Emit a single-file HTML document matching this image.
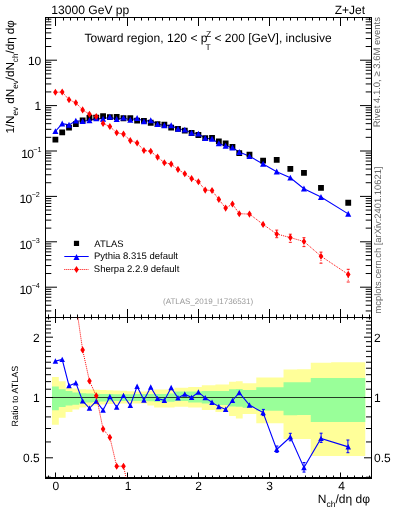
<!DOCTYPE html><html><head><meta charset="utf-8"><style>html,body{margin:0;padding:0;background:#fff;width:393px;height:512px;overflow:hidden}svg{display:block;will-change:transform}text{font-family:"Liberation Sans",sans-serif;text-rendering:geometricPrecision}</style></head><body>
<svg width="393" height="512" viewBox="0 0 393 512">
<path d="M51.99 377.1L58.8 377.1L58.8 381.3L65.61 381.3L65.61 387.9L72.42 387.9L72.42 388.5L79.23 388.5L79.23 389.2L86.05 389.2L86.05 389.5L92.85 389.5L92.85 389.8L99.66 389.8L99.66 390L106.47 390L106.47 390.2L113.28 390.2L113.28 390.5L120.09 390.5L120.09 390.8L126.91 390.8L126.91 391.2L133.72 391.2L133.72 391.5L140.53 391.5L140.53 391.5L147.33 391.5L147.33 390.5L154.14 390.5L154.14 389.6L160.95 389.6L160.95 389.6L167.76 389.6L167.76 389.6L174.57 389.6L174.57 387.7L181.38 387.7L181.38 387.7L188.19 387.7L188.19 387.1L195 387.1L195 387.1L201.81 387.1L201.81 385.2L208.62 385.2L208.62 385.2L215.44 385.2L215.44 384.5L222.25 384.5L222.25 384.5L229.06 384.5L229.06 381.8L235.87 381.8L235.87 381.3L242.67 381.3L242.67 383.2L256.29 383.2L256.29 377.4L269.91 377.4L269.91 377.4L283.53 377.4L283.53 369.6L297.15 369.6L297.15 369.3L310.77 369.3L310.77 362.8L331.2 362.8L331.2 362.3L365.25 362.3L365.25 456L331.2 456L331.2 456L310.77 456L310.77 438.9L297.15 438.9L297.15 438.9L283.53 438.9L283.53 423.3L269.91 423.3L269.91 423.3L256.29 423.3L256.29 414L242.67 414L242.67 418.4L235.87 418.4L235.87 416L229.06 416L229.06 411.9L222.25 411.9L222.25 411.9L215.44 411.9L215.44 410L208.62 410L208.62 410L201.81 410L201.81 407.4L195 407.4L195 407.4L188.19 407.4L188.19 406.8L181.38 406.8L181.38 406.8L174.57 406.8L174.57 407.4L167.76 407.4L167.76 407.4L160.95 407.4L160.95 407.4L154.14 407.4L154.14 405.5L147.33 405.5L147.33 403.6L140.53 403.6L140.53 403.6L133.72 403.6L133.72 403.6L126.91 403.6L126.91 403.6L120.09 403.6L120.09 403.8L113.28 403.8L113.28 404L106.47 404L106.47 404.5L99.66 404.5L99.66 405.5L92.85 405.5L92.85 406.5L86.05 406.5L86.05 407.6L79.23 407.6L79.23 409.5L72.42 409.5L72.42 412L65.61 412L65.61 417.8L58.8 417.8L58.8 424.8L51.99 424.8Z" fill="#ffff99"/>
<path d="M51.99 386.6L58.8 386.6L58.8 389.2L65.61 389.2L65.61 391.1L72.42 391.1L72.42 392.4L79.23 392.4L79.23 393.2L86.05 393.2L86.05 393.5L92.85 393.5L92.85 393.8L99.66 393.8L99.66 394L106.47 394L106.47 394.1L113.28 394.1L113.28 394.2L120.09 394.2L120.09 394.2L126.91 394.2L126.91 394.2L133.72 394.2L133.72 394.1L140.53 394.1L140.53 394.1L147.33 394.1L147.33 394.1L154.14 394.1L154.14 394.1L160.95 394.1L160.95 394.1L167.76 394.1L167.76 393.5L174.57 393.5L174.57 391.5L181.38 391.5L181.38 391.5L188.19 391.5L188.19 391.5L195 391.5L195 391.5L201.81 391.5L201.81 390.9L208.62 390.9L208.62 390.9L215.44 390.9L215.44 390.9L222.25 390.9L222.25 390.9L229.06 390.9L229.06 389.3L235.87 389.3L235.87 389.1L242.67 389.1L242.67 390.1L256.29 390.1L256.29 387.2L269.91 387.2L269.91 387.2L283.53 387.2L283.53 382.3L297.15 382.3L297.15 382.2L310.77 382.2L310.77 378L331.2 378L331.2 378L365.25 378L365.25 422L331.2 422L331.2 422L310.77 422L310.77 415.1L297.15 415.1L297.15 415.3L283.53 415.3L283.53 410.8L269.91 410.8L269.91 410.8L256.29 410.8L256.29 407.7L242.67 407.7L242.67 406.7L235.87 406.7L235.87 406.5L229.06 406.5L229.06 404.9L222.25 404.9L222.25 404.9L215.44 404.9L215.44 403.6L208.62 403.6L208.62 403.6L201.81 403.6L201.81 402.4L195 402.4L195 402.4L188.19 402.4L188.19 401.1L181.38 401.1L181.38 401.1L174.57 401.1L174.57 401.7L167.76 401.7L167.76 401.7L160.95 401.7L160.95 401.7L154.14 401.7L154.14 401.3L147.33 401.3L147.33 401L140.53 401L140.53 401L133.72 401L133.72 401L126.91 401L126.91 401L120.09 401L120.09 401L113.28 401L113.28 401.2L106.47 401.2L106.47 401.5L99.66 401.5L99.66 402L92.85 402L92.85 402.5L86.05 402.5L86.05 403.2L79.23 403.2L79.23 404.7L72.42 404.7L72.42 405.5L65.61 405.5L65.61 407L58.8 407L58.8 410.2L51.99 410.2Z" fill="#99ff99"/>
<line x1="45.5" y1="397.5" x2="371.5" y2="397.5" stroke="#000" stroke-width="1.2" opacity="0.75"/>
<path d="M48.5 17.5L48.5 20.5M48.5 317.5L48.5 314.5M48.5 317.5L48.5 319.5M48.5 477.5L48.5 475.5M55.5 17.5L55.5 26M55.5 317.5L55.5 309M55.5 317.5L55.5 323M55.5 477.5L55.5 472.5M63.5 17.5L63.5 20.5M63.5 317.5L63.5 314.5M63.5 317.5L63.5 319.5M63.5 477.5L63.5 475.5M70.5 17.5L70.5 20.5M70.5 317.5L70.5 314.5M70.5 317.5L70.5 319.5M70.5 477.5L70.5 475.5M77.5 17.5L77.5 20.5M77.5 317.5L77.5 314.5M77.5 317.5L77.5 319.5M77.5 477.5L77.5 475.5M84.5 17.5L84.5 20.5M84.5 317.5L84.5 314.5M84.5 317.5L84.5 319.5M84.5 477.5L84.5 475.5M91.5 17.5L91.5 20.5M91.5 317.5L91.5 314.5M91.5 317.5L91.5 319.5M91.5 477.5L91.5 475.5M98.5 17.5L98.5 20.5M98.5 317.5L98.5 314.5M98.5 317.5L98.5 319.5M98.5 477.5L98.5 475.5M105.5 17.5L105.5 20.5M105.5 317.5L105.5 314.5M105.5 317.5L105.5 319.5M105.5 477.5L105.5 475.5M112.5 17.5L112.5 20.5M112.5 317.5L112.5 314.5M112.5 317.5L112.5 319.5M112.5 477.5L112.5 475.5M119.5 17.5L119.5 20.5M119.5 317.5L119.5 314.5M119.5 317.5L119.5 319.5M119.5 477.5L119.5 475.5M127.5 17.5L127.5 26M127.5 317.5L127.5 309M127.5 317.5L127.5 323M127.5 477.5L127.5 472.5M134.5 17.5L134.5 20.5M134.5 317.5L134.5 314.5M134.5 317.5L134.5 319.5M134.5 477.5L134.5 475.5M141.5 17.5L141.5 20.5M141.5 317.5L141.5 314.5M141.5 317.5L141.5 319.5M141.5 477.5L141.5 475.5M148.5 17.5L148.5 20.5M148.5 317.5L148.5 314.5M148.5 317.5L148.5 319.5M148.5 477.5L148.5 475.5M155.5 17.5L155.5 20.5M155.5 317.5L155.5 314.5M155.5 317.5L155.5 319.5M155.5 477.5L155.5 475.5M162.5 17.5L162.5 20.5M162.5 317.5L162.5 314.5M162.5 317.5L162.5 319.5M162.5 477.5L162.5 475.5M169.5 17.5L169.5 20.5M169.5 317.5L169.5 314.5M169.5 317.5L169.5 319.5M169.5 477.5L169.5 475.5M176.5 17.5L176.5 20.5M176.5 317.5L176.5 314.5M176.5 317.5L176.5 319.5M176.5 477.5L176.5 475.5M184.5 17.5L184.5 20.5M184.5 317.5L184.5 314.5M184.5 317.5L184.5 319.5M184.5 477.5L184.5 475.5M191.5 17.5L191.5 20.5M191.5 317.5L191.5 314.5M191.5 317.5L191.5 319.5M191.5 477.5L191.5 475.5M198.5 17.5L198.5 26M198.5 317.5L198.5 309M198.5 317.5L198.5 323M198.5 477.5L198.5 472.5M205.5 17.5L205.5 20.5M205.5 317.5L205.5 314.5M205.5 317.5L205.5 319.5M205.5 477.5L205.5 475.5M212.5 17.5L212.5 20.5M212.5 317.5L212.5 314.5M212.5 317.5L212.5 319.5M212.5 477.5L212.5 475.5M219.5 17.5L219.5 20.5M219.5 317.5L219.5 314.5M219.5 317.5L219.5 319.5M219.5 477.5L219.5 475.5M226.5 17.5L226.5 20.5M226.5 317.5L226.5 314.5M226.5 317.5L226.5 319.5M226.5 477.5L226.5 475.5M233.5 17.5L233.5 20.5M233.5 317.5L233.5 314.5M233.5 317.5L233.5 319.5M233.5 477.5L233.5 475.5M241.5 17.5L241.5 20.5M241.5 317.5L241.5 314.5M241.5 317.5L241.5 319.5M241.5 477.5L241.5 475.5M248.5 17.5L248.5 20.5M248.5 317.5L248.5 314.5M248.5 317.5L248.5 319.5M248.5 477.5L248.5 475.5M255.5 17.5L255.5 20.5M255.5 317.5L255.5 314.5M255.5 317.5L255.5 319.5M255.5 477.5L255.5 475.5M262.5 17.5L262.5 20.5M262.5 317.5L262.5 314.5M262.5 317.5L262.5 319.5M262.5 477.5L262.5 475.5M269.5 17.5L269.5 26M269.5 317.5L269.5 309M269.5 317.5L269.5 323M269.5 477.5L269.5 472.5M276.5 17.5L276.5 20.5M276.5 317.5L276.5 314.5M276.5 317.5L276.5 319.5M276.5 477.5L276.5 475.5M283.5 17.5L283.5 20.5M283.5 317.5L283.5 314.5M283.5 317.5L283.5 319.5M283.5 477.5L283.5 475.5M290.5 17.5L290.5 20.5M290.5 317.5L290.5 314.5M290.5 317.5L290.5 319.5M290.5 477.5L290.5 475.5M297.5 17.5L297.5 20.5M297.5 317.5L297.5 314.5M297.5 317.5L297.5 319.5M297.5 477.5L297.5 475.5M305.5 17.5L305.5 20.5M305.5 317.5L305.5 314.5M305.5 317.5L305.5 319.5M305.5 477.5L305.5 475.5M312.5 17.5L312.5 20.5M312.5 317.5L312.5 314.5M312.5 317.5L312.5 319.5M312.5 477.5L312.5 475.5M319.5 17.5L319.5 20.5M319.5 317.5L319.5 314.5M319.5 317.5L319.5 319.5M319.5 477.5L319.5 475.5M326.5 17.5L326.5 20.5M326.5 317.5L326.5 314.5M326.5 317.5L326.5 319.5M326.5 477.5L326.5 475.5M333.5 17.5L333.5 20.5M333.5 317.5L333.5 314.5M333.5 317.5L333.5 319.5M333.5 477.5L333.5 475.5M340.5 17.5L340.5 26M340.5 317.5L340.5 309M340.5 317.5L340.5 323M340.5 477.5L340.5 472.5M347.5 17.5L347.5 20.5M347.5 317.5L347.5 314.5M347.5 317.5L347.5 319.5M347.5 477.5L347.5 475.5M354.5 17.5L354.5 20.5M354.5 317.5L354.5 314.5M354.5 317.5L354.5 319.5M354.5 477.5L354.5 475.5M362.5 17.5L362.5 20.5M362.5 317.5L362.5 314.5M362.5 317.5L362.5 319.5M362.5 477.5L362.5 475.5M369.5 17.5L369.5 20.5M369.5 317.5L369.5 314.5M369.5 317.5L369.5 319.5M369.5 477.5L369.5 475.5M45.5 310.94L51.3 310.94M371.5 310.94L365.7 310.94M45.5 305.27L51.3 305.27M371.5 305.27L365.7 305.27M45.5 300.87L51.3 300.87M371.5 300.87L365.7 300.87M45.5 297.27L51.3 297.27M371.5 297.27L365.7 297.27M45.5 294.23L51.3 294.23M371.5 294.23L365.7 294.23M45.5 291.6L51.3 291.6M371.5 291.6L365.7 291.6M45.5 289.28L51.3 289.28M371.5 289.28L365.7 289.28M45.5 287.2L57 287.2M371.5 287.2L360 287.2M45.5 273.53L51.3 273.53M371.5 273.53L365.7 273.53M45.5 265.54L51.3 265.54M371.5 265.54L365.7 265.54M45.5 259.87L51.3 259.87M371.5 259.87L365.7 259.87M45.5 255.47L51.3 255.47M371.5 255.47L365.7 255.47M45.5 251.87L51.3 251.87M371.5 251.87L365.7 251.87M45.5 248.83L51.3 248.83M371.5 248.83L365.7 248.83M45.5 246.2L51.3 246.2M371.5 246.2L365.7 246.2M45.5 243.88L51.3 243.88M371.5 243.88L365.7 243.88M45.5 241.8L57 241.8M371.5 241.8L360 241.8M45.5 228.13L51.3 228.13M371.5 228.13L365.7 228.13M45.5 220.14L51.3 220.14M371.5 220.14L365.7 220.14M45.5 214.47L51.3 214.47M371.5 214.47L365.7 214.47M45.5 210.07L51.3 210.07M371.5 210.07L365.7 210.07M45.5 206.47L51.3 206.47M371.5 206.47L365.7 206.47M45.5 203.43L51.3 203.43M371.5 203.43L365.7 203.43M45.5 200.8L51.3 200.8M371.5 200.8L365.7 200.8M45.5 198.48L51.3 198.48M371.5 198.48L365.7 198.48M45.5 196.4L57 196.4M371.5 196.4L360 196.4M45.5 182.73L51.3 182.73M371.5 182.73L365.7 182.73M45.5 174.74L51.3 174.74M371.5 174.74L365.7 174.74M45.5 169.07L51.3 169.07M371.5 169.07L365.7 169.07M45.5 164.67L51.3 164.67M371.5 164.67L365.7 164.67M45.5 161.07L51.3 161.07M371.5 161.07L365.7 161.07M45.5 158.03L51.3 158.03M371.5 158.03L365.7 158.03M45.5 155.4L51.3 155.4M371.5 155.4L365.7 155.4M45.5 153.08L51.3 153.08M371.5 153.08L365.7 153.08M45.5 151L57 151M371.5 151L360 151M45.5 137.33L51.3 137.33M371.5 137.33L365.7 137.33M45.5 129.34L51.3 129.34M371.5 129.34L365.7 129.34M45.5 123.67L51.3 123.67M371.5 123.67L365.7 123.67M45.5 119.27L51.3 119.27M371.5 119.27L365.7 119.27M45.5 115.67L51.3 115.67M371.5 115.67L365.7 115.67M45.5 112.63L51.3 112.63M371.5 112.63L365.7 112.63M45.5 110L51.3 110M371.5 110L365.7 110M45.5 107.68L51.3 107.68M371.5 107.68L365.7 107.68M45.5 105.6L57 105.6M371.5 105.6L360 105.6M45.5 91.93L51.3 91.93M371.5 91.93L365.7 91.93M45.5 83.94L51.3 83.94M371.5 83.94L365.7 83.94M45.5 78.27L51.3 78.27M371.5 78.27L365.7 78.27M45.5 73.87L51.3 73.87M371.5 73.87L365.7 73.87M45.5 70.27L51.3 70.27M371.5 70.27L365.7 70.27M45.5 67.23L51.3 67.23M371.5 67.23L365.7 67.23M45.5 64.6L51.3 64.6M371.5 64.6L365.7 64.6M45.5 62.28L51.3 62.28M371.5 62.28L365.7 62.28M45.5 60.2L57 60.2M371.5 60.2L360 60.2M45.5 46.53L51.3 46.53M371.5 46.53L365.7 46.53M45.5 38.54L51.3 38.54M371.5 38.54L365.7 38.54M45.5 32.87L51.3 32.87M371.5 32.87L365.7 32.87M45.5 28.47L51.3 28.47M371.5 28.47L365.7 28.47M45.5 24.87L51.3 24.87M371.5 24.87L365.7 24.87M45.5 21.83L51.3 21.83M371.5 21.83L365.7 21.83M45.5 19.2L51.3 19.2M371.5 19.2L365.7 19.2M45.5 477.21L51 477.21M371.5 477.21L366 477.21M45.5 457.8L53 457.8M371.5 457.8L364 457.8M45.5 441.94L51 441.94M371.5 441.94L366 441.94M45.5 428.53L51 428.53M371.5 428.53L366 428.53M45.5 416.91L51 416.91M371.5 416.91L366 416.91M45.5 406.67L51 406.67M371.5 406.67L366 406.67M45.5 397.5L53 397.5M371.5 397.5L364 397.5M45.5 389.21L51 389.21M371.5 389.21L366 389.21M45.5 381.64L51 381.64M371.5 381.64L366 381.64M45.5 374.68L51 374.68M371.5 374.68L366 374.68M45.5 368.23L51 368.23M371.5 368.23L366 368.23M45.5 362.23L51 362.23M371.5 362.23L366 362.23M45.5 356.61L51 356.61M371.5 356.61L366 356.61M45.5 351.34L51 351.34M371.5 351.34L366 351.34M45.5 346.37L51 346.37M371.5 346.37L366 346.37M45.5 341.67L51 341.67M371.5 341.67L366 341.67M45.5 337.2L53 337.2M371.5 337.2L364 337.2M45.5 332.96L51 332.96M371.5 332.96L366 332.96M45.5 328.91L51 328.91M371.5 328.91L366 328.91M45.5 325.05L51 325.05M371.5 325.05L366 325.05M45.5 321.34L51 321.34M371.5 321.34L366 321.34M45.5 317.79L51 317.79M371.5 317.79L366 317.79" stroke="#000" stroke-width="1" fill="none"/>
<rect x="45.5" y="17.5" width="326.0" height="460.0" fill="none" stroke="#000" stroke-width="1"/>
<line x1="45.5" y1="317.5" x2="371.5" y2="317.5" stroke="#000" stroke-width="1"/>
<line x1="45.0" y1="478" x2="372.0" y2="478" stroke="#000" stroke-width="2"/>
<defs><clipPath id="cm"><rect x="45.5" y="17.5" width="326.0" height="300.0"/></clipPath><clipPath id="cr"><rect x="45.5" y="317.5" width="326.0" height="160.0"/></clipPath></defs>
<path d="M55.4 92.3L62.21 92L69.02 99.7L75.83 102.8L82.64 109.9L89.45 114.2L96.26 116.5L103.07 123.5L109.88 126.5L116.69 132.8L123.5 134.1L130.31 140.6L137.12 143L143.93 150.5L150.74 151.3L157.55 157.1L164.36 162.7L171.17 164.1L177.98 169.4L184.79 173.7L191.6 178.6L198.41 181.7L205.22 190.1L212.03 190.5L218.84 199.4L225.65 208.1L232.46 204L239.27 213.7L249.48 214.1L263.1 224.4L276.72 234L290.34 237.6L303.96 241.5L320.99 256.2L348.23 274.4" stroke="#ff0000" stroke-width="1" fill="none" stroke-dasharray="1 1" clip-path="url(#cm)"/>
<path d="M55.4 131.3L62.21 123.7L69.02 124.9L75.83 120.8L82.64 121.3L89.45 120.4L96.26 118.4L103.07 119L109.88 117L116.69 119.2L123.5 117.8L130.31 120L137.12 118.1L143.93 121.4L150.74 120.4L157.55 124.3L164.36 125.4L171.17 125.4L177.98 129L184.79 129.8L191.6 133L198.41 133.8L205.22 138.2L212.03 138.9L218.84 143.4L225.65 146L232.46 147.6L239.27 152.1L249.48 156.3L263.1 164L276.72 171.7L290.34 177.8L303.96 188.7L320.99 197.1L348.23 213.9" stroke="#0000ff" stroke-width="1.1" fill="none" clip-path="url(#cm)"/>
<path d="M52.5 136.63h5.8v5.8h-5.8ZM59.31 129.4h5.8v5.8h-5.8ZM66.12 124.67h5.8v5.8h-5.8ZM72.93 121.2h5.8v5.8h-5.8ZM79.74 117.61h5.8v5.8h-5.8ZM86.55 115.06h5.8v5.8h-5.8ZM93.36 114.66h5.8v5.8h-5.8ZM100.17 113.23h5.8v5.8h-5.8ZM106.98 114.28h5.8v5.8h-5.8ZM113.79 114.08h5.8v5.8h-5.8ZM120.6 115.35h5.8v5.8h-5.8ZM127.41 115.29h5.8v5.8h-5.8ZM134.22 117.71h5.8v5.8h-5.8ZM141.03 117.91h5.8v5.8h-5.8ZM147.84 119.85h5.8v5.8h-5.8ZM154.65 121.17h5.8v5.8h-5.8ZM161.46 121.84h5.8v5.8h-5.8ZM168.27 124.72h5.8v5.8h-5.8ZM175.08 126.01h5.8v5.8h-5.8ZM181.89 127.67h5.8v5.8h-5.8ZM188.7 130.1h5.8v5.8h-5.8ZM195.51 132.12h5.8v5.8h-5.8ZM202.32 135.23h5.8v5.8h-5.8ZM209.13 134.89h5.8v5.8h-5.8ZM215.94 138.44h5.8v5.8h-5.8ZM222.75 140.41h5.8v5.8h-5.8ZM229.56 144.02h5.8v5.8h-5.8ZM236.37 150.31h5.8v5.8h-5.8ZM246.58 151.68h5.8v5.8h-5.8ZM260.2 157.68h5.8v5.8h-5.8ZM273.82 157.04h5.8v5.8h-5.8ZM287.44 165.97h5.8v5.8h-5.8ZM301.06 169.94h5.8v5.8h-5.8ZM318.09 184.93h5.8v5.8h-5.8ZM345.33 199.83h5.8v5.8h-5.8Z" fill="#000"/>
<path d="M55.4 128.17L58.44 134.11L52.36 134.11ZM62.21 120.56L65.25 126.5L59.17 126.5ZM69.02 121.77L72.06 127.71L65.98 127.71ZM75.83 117.66L78.87 123.6L72.79 123.6ZM82.64 118.16L85.68 124.1L79.6 124.1ZM89.45 117.27L92.49 123.21L86.41 123.21ZM96.26 115.27L99.3 121.21L93.22 121.21ZM103.07 115.86L106.11 121.81L100.03 121.81ZM109.88 113.86L112.92 119.81L106.84 119.81ZM116.69 116.06L119.73 122L113.65 122ZM123.5 114.66L126.54 120.6L120.46 120.6ZM130.31 116.86L133.35 122.81L127.27 122.81ZM137.12 114.96L140.16 120.91L134.08 120.91ZM143.93 118.27L146.97 124.21L140.89 124.21ZM150.74 117.27L153.78 123.21L147.7 123.21ZM157.55 121.16L160.59 127.1L154.51 127.1ZM164.36 122.27L167.4 128.21L161.32 128.21ZM171.17 122.27L174.21 128.21L168.13 128.21ZM177.98 125.86L181.02 131.81L174.94 131.81ZM184.79 126.67L187.83 132.61L181.75 132.61ZM191.6 129.87L194.64 135.81L188.56 135.81ZM198.41 130.67L201.45 136.61L195.37 136.61ZM205.22 135.06L208.26 141L202.18 141ZM212.03 135.77L215.07 141.71L208.99 141.71ZM218.84 140.27L221.88 146.21L215.8 146.21ZM225.65 142.87L228.69 148.81L222.61 148.81ZM232.46 144.47L235.5 150.41L229.42 150.41ZM239.27 148.97L242.31 154.91L236.23 154.91ZM249.48 153.17L252.52 159.11L246.45 159.11ZM263.1 160.87L266.14 166.81L260.07 166.81ZM276.72 168.56L279.76 174.5L273.69 174.5ZM290.34 174.67L293.38 180.61L287.31 180.61ZM303.96 185.56L307 191.5L300.93 191.5ZM320.99 193.97L324.03 199.91L317.95 199.91ZM348.23 210.77L351.27 216.71L345.19 216.71Z" fill="#0000ff"/>
<path d="M55.4 88.74L57.71 92.3L55.4 95.86L53.09 92.3ZM62.21 88.44L64.52 92L62.21 95.56L59.9 92ZM69.02 96.14L71.33 99.7L69.02 103.26L66.71 99.7ZM75.83 99.24L78.14 102.8L75.83 106.36L73.52 102.8ZM82.64 106.34L84.95 109.9L82.64 113.46L80.33 109.9ZM89.45 110.64L91.76 114.2L89.45 117.76L87.14 114.2ZM96.26 112.94L98.57 116.5L96.26 120.06L93.95 116.5ZM103.07 119.94L105.38 123.5L103.07 127.06L100.76 123.5ZM109.88 122.94L112.19 126.5L109.88 130.06L107.57 126.5ZM116.69 129.24L119 132.8L116.69 136.36L114.38 132.8ZM123.5 130.54L125.81 134.1L123.5 137.66L121.19 134.1ZM130.31 137.04L132.62 140.6L130.31 144.16L128 140.6ZM137.12 139.44L139.43 143L137.12 146.56L134.81 143ZM143.93 146.94L146.24 150.5L143.93 154.06L141.62 150.5ZM150.74 147.74L153.05 151.3L150.74 154.86L148.43 151.3ZM157.55 153.54L159.86 157.1L157.55 160.66L155.24 157.1ZM164.36 159.14L166.67 162.7L164.36 166.26L162.05 162.7ZM171.17 160.54L173.48 164.1L171.17 167.66L168.86 164.1ZM177.98 165.84L180.29 169.4L177.98 172.96L175.67 169.4ZM184.79 170.14L187.1 173.7L184.79 177.26L182.48 173.7ZM191.6 175.04L193.91 178.6L191.6 182.16L189.29 178.6ZM198.41 178.14L200.72 181.7L198.41 185.26L196.1 181.7ZM205.22 186.54L207.53 190.1L205.22 193.66L202.91 190.1ZM212.03 186.94L214.34 190.5L212.03 194.06L209.72 190.5ZM218.84 195.84L221.15 199.4L218.84 202.96L216.53 199.4ZM225.65 204.54L227.96 208.1L225.65 211.66L223.34 208.1ZM232.46 200.44L234.77 204L232.46 207.56L230.15 204ZM239.27 210.14L241.58 213.7L239.27 217.26L236.96 213.7ZM249.48 210.54L251.79 214.1L249.48 217.66L247.17 214.1ZM263.1 220.84L265.41 224.4L263.1 227.96L260.79 224.4ZM276.72 230.44L279.03 234L276.72 237.56L274.41 234ZM290.34 234.04L292.65 237.6L290.34 241.16L288.03 237.6ZM303.96 237.94L306.27 241.5L303.96 245.06L301.65 241.5ZM320.99 252.64L323.3 256.2L320.99 259.76L318.68 256.2ZM348.23 270.84L350.54 274.4L348.23 277.96L345.92 274.4Z" fill="#ff0000"/>
<path d="M276.72 230.1V237.7M290.34 234.2V242.3M303.96 237.7V246.6M320.99 252.1V263.2M348.23 269.3V282" stroke="#ff0000" stroke-width="1" stroke-dasharray="1 1.6" fill="none"/>
<path d="M275.22 230.1h3M275.22 237.7h3M288.84 234.2h3M288.84 242.3h3M302.46 237.7h3M302.46 246.6h3M319.49 252.1h3M319.49 263.2h3M346.73 269.3h3M346.73 282h3" stroke="#ff0000" stroke-width="0.9" fill="none"/>
<path d="M55.4 361.1L62.21 359.5L69.02 385.7L75.83 382.9L82.64 401L89.45 408.3L96.26 401.2L103.07 410.2L109.88 396.7L116.69 407.3L123.5 395.5L130.31 405.5L137.12 386.4L143.93 400.1L150.74 387.1L157.55 398.5L164.36 400.4L171.17 387.7L177.98 397.9L184.79 394.1L191.6 397.5L198.41 392.1L205.22 397.8L212.03 402.4L218.84 406.6L225.65 409.4L232.46 400.5L239.27 392.6L249.48 405.1L263.1 412.6L276.72 449.5L290.34 437L303.96 467.6L320.99 438.5L348.23 446.9" stroke="#0000ff" stroke-width="1.1" fill="none" clip-path="url(#cr)"/>
<path d="M55.4 358.25L58.16 363.65L52.64 363.65ZM62.21 356.65L64.97 362.05L59.45 362.05ZM69.02 382.85L71.78 388.25L66.26 388.25ZM75.83 380.05L78.59 385.45L73.07 385.45ZM82.64 398.15L85.4 403.55L79.88 403.55ZM89.45 405.45L92.21 410.85L86.69 410.85ZM96.26 398.35L99.02 403.75L93.5 403.75ZM103.07 407.35L105.83 412.75L100.31 412.75ZM109.88 393.85L112.64 399.25L107.12 399.25ZM116.69 404.45L119.45 409.85L113.93 409.85ZM123.5 392.65L126.26 398.05L120.74 398.05ZM130.31 402.65L133.07 408.05L127.55 408.05ZM137.12 383.55L139.88 388.95L134.36 388.95ZM143.93 397.25L146.69 402.65L141.17 402.65ZM150.74 384.25L153.5 389.65L147.98 389.65ZM157.55 395.65L160.31 401.05L154.79 401.05ZM164.36 397.55L167.12 402.95L161.6 402.95ZM171.17 384.85L173.93 390.25L168.41 390.25ZM177.98 395.05L180.74 400.45L175.22 400.45ZM184.79 391.25L187.55 396.65L182.03 396.65ZM191.6 394.65L194.36 400.05L188.84 400.05ZM198.41 389.25L201.17 394.65L195.65 394.65ZM205.22 394.95L207.98 400.35L202.46 400.35ZM212.03 399.55L214.79 404.95L209.27 404.95ZM218.84 403.75L221.6 409.15L216.08 409.15ZM225.65 406.55L228.41 411.95L222.89 411.95ZM232.46 397.65L235.22 403.05L229.7 403.05ZM239.27 389.75L242.03 395.15L236.51 395.15ZM249.48 402.25L252.24 407.65L246.72 407.65ZM263.1 409.75L265.86 415.15L260.34 415.15ZM276.72 446.65L279.48 452.05L273.96 452.05ZM290.34 434.15L293.1 439.55L287.58 439.55ZM303.96 464.75L306.72 470.15L301.2 470.15ZM320.99 435.65L323.75 441.05L318.23 441.05ZM348.23 444.05L350.99 449.45L345.47 449.45Z" fill="#0000ff" clip-path="url(#cr)"/>
<path d="M263.4 409.4V415.6M261.9 409.4h3M261.9 415.6h3M276.9 446V452.4M275.4 446h3M275.4 452.4h3M290.3 433.3V440.8M288.8 433.3h3M288.8 440.8h3M304 462.5V472.1M302.5 462.5h3M302.5 472.1h3M321.1 433.2V442.4M319.6 433.2h3M319.6 442.4h3M347.9 440V452.7M346.4 440h3M346.4 452.7h3" stroke="#0000ff" stroke-width="1" fill="none"/>
<path d="M55.4 188.63L62.21 219.31L69.02 274.26L75.83 303.3L82.64 349.9L89.45 381L96.26 395.8L103.07 429.1L109.88 437.4L116.69 466.2L123.5 466.2L130.31 496.6" stroke="#ff0000" stroke-width="1" fill="none" stroke-dasharray="1 1" clip-path="url(#cr)"/>
<path d="M82.64 346.34L84.95 349.9L82.64 353.46L80.33 349.9ZM89.45 377.44L91.76 381L89.45 384.56L87.14 381ZM96.26 392.24L98.57 395.8L96.26 399.36L93.95 395.8ZM103.07 425.54L105.38 429.1L103.07 432.66L100.76 429.1ZM109.88 433.84L112.19 437.4L109.88 440.96L107.57 437.4ZM116.69 462.64L119 466.2L116.69 469.76L114.38 466.2ZM123.5 462.64L125.81 466.2L123.5 469.76L121.19 466.2Z" fill="#ff0000" clip-path="url(#cr)"/>
<path d="M73.9 240.8h5.2v5.2h-5.2Z" fill="#000"/>
<line x1="64.3" y1="256.5" x2="88.7" y2="256.5" stroke="#0000ff" stroke-width="1"/>
<path d="M76.5 253.97L79.54 259.91L73.46 259.91Z" fill="#0000ff"/>
<line x1="64.3" y1="269.5" x2="88.7" y2="269.5" stroke="#ff0000" stroke-width="1" stroke-dasharray="1 1"/>
<path d="M76.5 265.94L78.81 269.5L76.5 273.06L74.19 269.5Z" fill="#ff0000"/>
<text x="51.3" y="14" font-size="12.1" fill="#000" text-anchor="start">13000 GeV pp</text>
<text x="365" y="14" font-size="12" fill="#000" text-anchor="end">Z+Jet</text>
<text x="84.6" y="42" font-size="12.05" fill="#000" text-anchor="start">Toward region, 120 &lt; p</text>
<text x="206" y="37" font-size="8.5" fill="#000" text-anchor="start">Z</text>
<text x="205.5" y="49.5" font-size="8.5" fill="#000" text-anchor="start">T</text>
<text x="214.5" y="42" font-size="12" fill="#000" text-anchor="start">&lt; 200 [GeV], inclusive</text>
<text x="94.3" y="247" font-size="9.45" fill="#000" text-anchor="start">ATLAS</text>
<text x="94" y="259.2" font-size="9.5" fill="#000" text-anchor="start">Pythia 8.315 default</text>
<text x="93.8" y="272.4" font-size="9.5" fill="#000" text-anchor="start">Sherpa 2.2.9 default</text>
<text x="163" y="303.5" font-size="8" fill="#999" text-anchor="start">(ATLAS_2019_I1736531)</text>
<text x="41.3" y="65" font-size="12" fill="#000" text-anchor="end">10</text>
<text x="41.3" y="110.4" font-size="12" fill="#000" text-anchor="end">1</text>
<text x="21.2" y="158" font-size="12" letter-spacing="-0.6">10<tspan dy="-6.3" font-size="7.2" letter-spacing="0">&#8722;1</tspan></text>
<text x="19.5" y="203.4" font-size="12" letter-spacing="-0.6">10<tspan dy="-6.3" font-size="7.2" letter-spacing="0">&#8722;2</tspan></text>
<text x="19.5" y="248.8" font-size="12" letter-spacing="-0.6">10<tspan dy="-6.3" font-size="7.2" letter-spacing="0">&#8722;3</tspan></text>
<text x="19.5" y="294.2" font-size="12" letter-spacing="-0.6">10<tspan dy="-6.3" font-size="7.2" letter-spacing="0">&#8722;4</tspan></text>
<text x="39.8" y="341.7" font-size="12" fill="#000" text-anchor="end">2</text>
<text x="374" y="341.7" font-size="12" fill="#000" text-anchor="start">2</text>
<text x="39.8" y="402" font-size="12" fill="#000" text-anchor="end">1</text>
<text x="374" y="402" font-size="12" fill="#000" text-anchor="start">1</text>
<text x="39.8" y="462.3" font-size="12" fill="#000" text-anchor="end">0.5</text>
<text x="374" y="462.3" font-size="12" fill="#000" text-anchor="start">0.5</text>
<text x="55.9" y="490" font-size="12" fill="#000" text-anchor="middle">0</text>
<text x="128.1" y="490" font-size="12" fill="#000" text-anchor="middle">1</text>
<text x="198.5" y="490" font-size="12" fill="#000" text-anchor="middle">2</text>
<text x="269.7" y="490" font-size="12" fill="#000" text-anchor="middle">3</text>
<text x="341.6" y="490" font-size="12" fill="#000" text-anchor="middle">4</text>
<text x="317.8" y="503" font-size="12">N<tspan dy="3.6" font-size="8.5">ch</tspan><tspan dy="-3.6">/d&#951; d&#966;</tspan></text>
<text transform="translate(14.1,133.6) rotate(-90)" font-size="11.6">1/N<tspan dy="3.5" font-size="8.2">ev</tspan><tspan dy="-3.5"> dN</tspan><tspan dy="3.5" font-size="8.2">ev</tspan><tspan dy="-3.5">/dN</tspan><tspan dy="3.5" font-size="8.2">ch</tspan><tspan dy="-3.5">/d&#951; d&#966;</tspan></text>
<text transform="translate(18.2,426.6) rotate(-90)" font-size="9">Ratio to ATLAS</text>
<text transform="translate(380.3,127.3) rotate(-90)" font-size="9.5" fill="#666">Rivet 4.1.0, &#8805; 3.6M events</text>
<text transform="translate(381.0,313.5) rotate(-90)" font-size="9.4" fill="#666">mcplots.cern.ch [arXiv:2401.10621]</text>
</svg></body></html>
